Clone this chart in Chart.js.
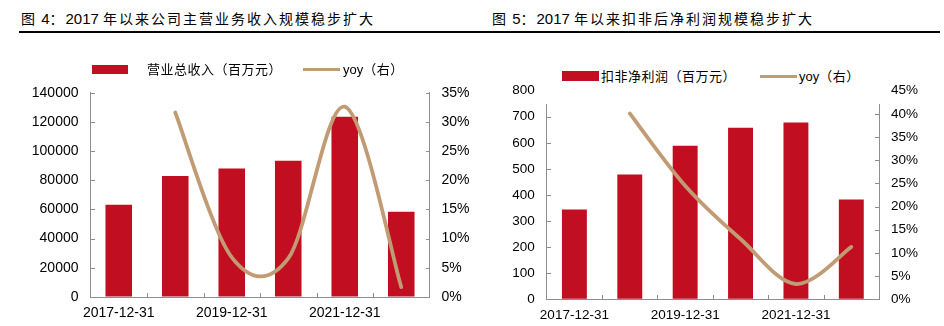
<!DOCTYPE html>
<html>
<head>
<meta charset="utf-8">
<script src="https://cdn.jsdelivr.net/npm/chart.js@4.4.0/dist/chart.umd.min.js"></script>
<style>
  body { margin: 0; width: 944px; height: 326px; background: #fff; position: relative; overflow: hidden;
         font-family: "Liberation Sans", "Noto Sans CJK SC", sans-serif; color: #000; }
  .abs { position: absolute; }
  .title { font-size: 15px; line-height: 20px; white-space: nowrap; }
  .title .cjk { font-family: "Noto Sans CJK SC", sans-serif; font-size: 14px; letter-spacing: 2px; }
  .leg { font-size: 13px; line-height: 16px; white-space: nowrap; font-family: "Liberation Sans", "Noto Sans CJK SC", sans-serif; }
  .leg .cjk { font-family: "Noto Sans CJK SC", sans-serif; letter-spacing: 0.5px; }
</style>
</head>
<body>
<div class="abs title" style="left:21px; top:8px;"><span class="cjk">图</span> 4<span class="cjk">：</span>2017 <span class="cjk">年以来公司主营业务收入规模稳步扩大</span></div>
<div class="abs title" style="left:492px; top:8px;"><span class="cjk">图</span> 5<span class="cjk">：</span>2017 <span class="cjk">年以来扣非后净利润规模稳步扩大</span></div>
<div class="abs" style="left:19px; top:31px; width:921px; height:2px; background:#000;"></div>

<div class="abs" style="left:0; top:0;"><canvas id="chart1" width="472" height="326"></canvas></div>
<div class="abs" style="left:472px; top:0;"><canvas id="chart2" width="472" height="326"></canvas></div>

<!-- légende graphique 1 -->
<div class="abs" style="left:92px; top:65px; width:36px; height:9px; background:#C10E20;"></div>
<div class="abs leg" style="left:147px; top:61px;"><span class="cjk">营业总收入（百万元）</span></div>
<div class="abs" style="left:303px; top:68px; width:37px; height:3px; background:#C09B73;"></div>
<div class="abs leg" style="left:343px; top:61px;">yoy<span class="cjk">（右）</span></div>

<!-- légende graphique 2 (fond blanc qui masque le haut des axes) -->
<div class="abs" style="left:545px; top:56px; width:338px; height:48px; background:#fff;"></div>
<div class="abs" style="left:562px; top:71px; width:37px; height:10px; background:#C10E20;"></div>
<div class="abs leg" style="left:601px; top:68px;"><span class="cjk">扣非净利润（百万元）</span></div>
<div class="abs" style="left:760px; top:75px; width:37px; height:3px; background:#C09B73;"></div>
<div class="abs leg" style="left:799px; top:68px;">yoy<span class="cjk">（右）</span></div>

<script>
// Données
const dates = ['2017-12-31', '2018-12-31', '2019-12-31', '2020-12-31', '2021-12-31', '2022-06-30'];
const revenue = [63300, 83000, 88000, 93300, 123500, 58400];      // 营业总收入（百万元）
const revenueYoy = [null, 31.6, 6.8, 6.6, 32.6, 1.7];             // %
const profit = [344, 479, 589, 658, 678, 383];                    // 扣非净利润（百万元）
const profitYoy = [null, 40.1, 24.5, 13.0, 3.3, 11.3];            // %

const barColor = '#C10E20';
const lineColor = '#C09B73';
const axisColor = '#8E8E8E';

// Lissage façon Excel (Catmull-Rom) au lieu du lissage Chart.js
const excelSmooth = {
    id: 'excelSmooth',
    beforeDatasetDraw(chart, args) {
        const meta = args.meta;
        if (meta.type !== 'line') return;
        meta.dataset.updateControlPoints(chart.chartArea, 'x');
        const pts = meta.data.filter(p => !p.skip);
        pts.forEach((p, i) => {
            const prev = pts[i - 1] || p;
            const next = pts[i + 1] || p;
            const dx = (next.x - prev.x) / 6;
            const dy = (next.y - prev.y) / 6;
            p.cp1x = p.x - dx; p.cp1y = p.y - dy;
            p.cp2x = p.x + dx; p.cp2y = p.y + dy;
        });
    }
};

// Petites graduations tournées vers l'intérieur
const innerTicks = {
    id: 'innerTicks',
    afterDraw(chart) {
        const ctx = chart.ctx;
        const area = chart.chartArea;
        ctx.save();
        ctx.strokeStyle = axisColor;
        ctx.lineWidth = 1;
        ctx.beginPath();
        const yl = chart.scales.y, yr = chart.scales.y1, x = chart.scales.x;
        yl.ticks.forEach((t, i) => {
            const py = Math.round(yl.getPixelForTick(i)) + 0.5;
            ctx.moveTo(Math.round(area.left), py); ctx.lineTo(Math.round(area.left) + 4, py);
        });
        yr.ticks.forEach((t, i) => {
            const py = Math.round(yr.getPixelForTick(i)) + 0.5;
            ctx.moveTo(Math.round(area.right), py); ctx.lineTo(Math.round(area.right) - 4, py);
        });
        for (let i = 1; i < dates.length; i++) {
            const px = Math.round(x.getPixelForValue(i - 0.5)) + 0.5;
            ctx.moveTo(px, Math.round(area.bottom)); ctx.lineTo(px, Math.round(area.bottom) - 4);
        }
        ctx.stroke();
        ctx.restore();
    }
};

function makeChart(id, bars, yoy, opts) {
    const ctx = document.getElementById(id).getContext('2d');
    return new Chart(ctx, {
        type: 'bar',
        data: {
            labels: dates,
            datasets: [{
                type: 'line',
                data: yoy,
                yAxisID: 'y1',
                borderColor: lineColor,
                borderWidth: 3.8,
                borderCapStyle: 'round',
                tension: 0.4,
                pointRadius: 0,
                order: 0
            }, {
                type: 'bar',
                data: bars,
                yAxisID: 'y',
                backgroundColor: barColor,
                barPercentage: opts.barPct,
                categoryPercentage: 1,
                order: 1
            }]
        },
        options: {
            responsive: false,
            animation: false,
            devicePixelRatio: 1,
            layout: { padding: { top: opts.top, left: 0, right: 0, bottom: 0 } },
            plugins: { legend: { display: false }, tooltip: { enabled: false } },
            scales: {
                x: {
                    grid: { display: true, drawOnChartArea: false, drawTicks: false },
                    border: { display: true, color: axisColor },
                    ticks: {
                        color: '#000',
                        font: { family: 'Liberation Sans', size: opts.font },
                        padding: 8,
                        autoSkip: false,
                        maxRotation: 0,
                        callback: (v, i) => (i % 2 === 0 ? dates[i] : '')
                    },
                    afterFit: s => { s.height = opts.xh; }
                },
                y: {
                    position: 'left',
                    min: 0, max: opts.leftMax,
                    grid: { display: true, drawOnChartArea: false, drawTicks: false },
                    border: { display: true, color: axisColor },
                    ticks: {
                        stepSize: opts.leftStep,
                        color: '#000',
                        font: { family: 'Liberation Sans', size: opts.font },
                        padding: 12,
                        callback: v => String(v)
                    },
                    afterFit: s => { s.width = opts.lw; }
                },
                y1: {
                    position: 'right',
                    min: 0, max: opts.rightMax,
                    grid: { display: true, drawOnChartArea: false, drawTicks: false },
                    border: { display: true, color: axisColor },
                    ticks: {
                        stepSize: 5,
                        color: '#000',
                        font: { family: 'Liberation Sans', size: opts.font },
                        padding: 12,
                        callback: v => v + '%'
                    },
                    afterFit: s => { s.width = opts.rw; }
                }
            }
        },
        plugins: [excelSmooth, innerTicks]
    });
}

makeChart('chart1', revenue, revenueYoy, {
    top: 92.7, lw: 90.5, rw: 42.5, xh: 29, font: 14,
    leftMax: 140000, leftStep: 20000, rightMax: 35, barPct: 0.47
});
makeChart('chart2', profit, profitYoy, {
    top: 90.7, lw: 74.7, rw: 65, xh: 26.7, font: 13.5,
    leftMax: 800, leftStep: 100, rightMax: 45, barPct: 0.45
});
</script>
</body>
</html>
